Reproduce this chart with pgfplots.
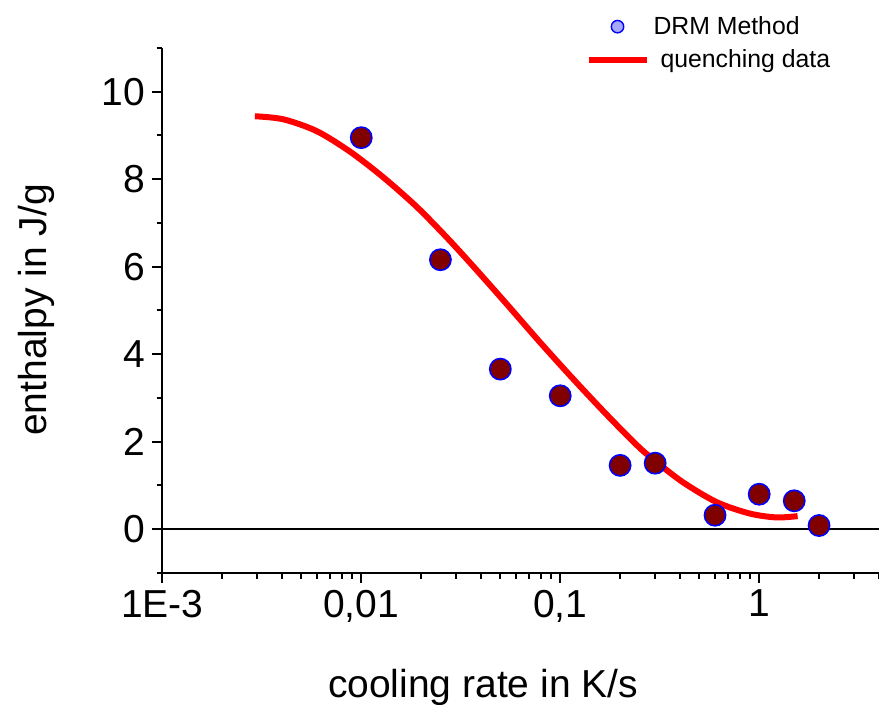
\documentclass[border=0pt]{standalone}
\usepackage{pgfplots}
\pgfplotsset{compat=1.18}
\usepackage{fontspec}
\setmainfont{Liberation Sans}
\definecolor{darkred}{RGB}{128,0,0}
\definecolor{lightblue}{RGB}{168,168,250}
\begin{document}
\begin{tikzpicture}
\path[use as bounding box] (-81.15pt,-66pt) rectangle (358.35pt,286.5pt);
\begin{axis}[
  scale only axis, width=358.35pt, height=262.5pt,
  xmode=log, xmin=0.001, xmax=4, ymin=-1, ymax=11,
  axis x line*=bottom, axis y line*=left,
  axis line style={line width=1.2pt, -},
  every tick/.style={black, line width=1pt},
  tick align=outside,
  major tick length=5pt, minor tick length=2.8pt,
  xtick={0.001,0.01,0.1,1}, xticklabels={1E-3,{0,01},{0,1},1},
  minor xtick={0.002,0.003,0.004,0.005,0.006,0.007,0.008,0.009,0.02,0.03,0.04,0.05,0.06,0.07,0.08,0.09,0.2,0.3,0.4,0.5,0.6,0.7,0.8,0.9,2,3,4},
  ytick={0,2,4,6,8,10}, minor ytick={-1,1,3,5,7,9,11},
  /pgf/number format/assume math mode=true,
  tick label style={font=\fontsize{19.5}{23}\selectfont},
  label style={font=\fontsize{19.5}{23}\selectfont},
  xlabel={cooling rate in K/s}, ylabel={enthalpy in J/g},
  xlabel style={at={([yshift=-62.5pt]axis description cs:0.4475,0)}, anchor=base},
  ylabel style={at={([xshift=-57.65pt]axis description cs:0,0.501)}, anchor=base},
  legend style={draw=none, fill=none, at={(axis description cs:0.59,1.069)}, anchor=north west,
    font=\fontsize{12.4}{14}\selectfont, inner sep=0pt, row sep=2pt,
    nodes={inner sep=2pt}},
  legend cell align=left,
  clip=false,
]
\addplot[black, line width=1.2pt, forget plot] coordinates {(0.001,0) (4,0)};
\addplot[only marks, mark=*, mark size=5.3pt,
  mark options={fill=darkred, draw=blue, line width=0.8pt},
  legend image code/.code={\path[draw=none,fill=none] (0pt,0pt) -- (29pt,0pt);
    \draw[fill=lightblue, draw=blue, line width=0.7pt] (14.5pt,0pt) circle (3.1pt);}]
  coordinates {
  (0.01,8.95) (0.025,6.16) (0.05,3.66) (0.1,3.05) (0.2,1.46)
  (0.3,1.51) (0.6,0.32) (1.0,0.80) (1.5,0.65) (2.0,0.085)
  };
\addlegendentry{DRM Method}
\addplot[red, line width=3pt, smooth,
  legend image code/.code={\draw[red, line width=3pt] (0pt,0pt) -- (29pt,0pt);}]
  coordinates {
  (0.00292,9.44) (0.00406,9.37) (0.00597,9.10) (0.00879,8.63) (0.01294,8.04)
  (0.0190,7.37) (0.0269,6.67) (0.0367,6.00) (0.0540,5.14) (0.0793,4.27)
  (0.117,3.42) (0.172,2.61) (0.243,1.92) (0.291,1.61) (0.412,1.08)
  (0.611,0.62) (0.895,0.36) (1.22,0.27) (1.56,0.30)
  };
\addlegendentry{\hspace{3.5pt}quenching data}
\end{axis}
\end{tikzpicture}
\end{document}
